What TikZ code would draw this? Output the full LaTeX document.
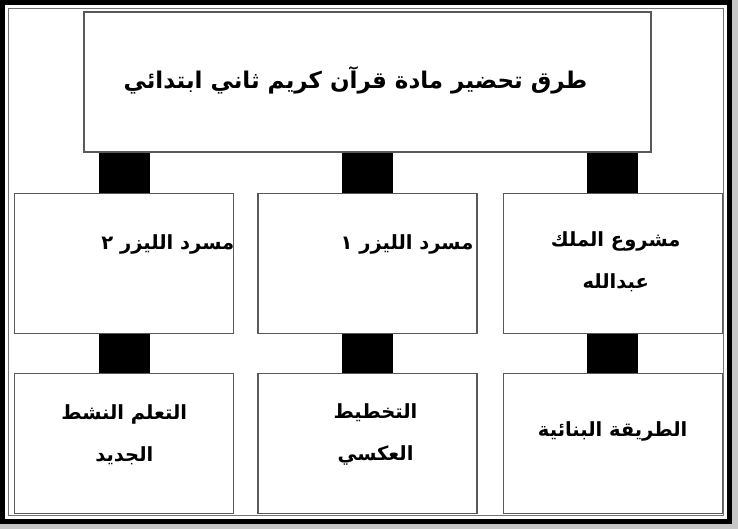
\documentclass[tikz,border=0pt]{standalone}
\usepackage{fontspec}
\newfontfamily\arabicfont[Script=Arabic]{DejaVu Sans}
\TeXXeTstate=1
\usetikzlibrary{positioning}
\tikzset {
  chart box/.style = {
    draw = black!65,
    line width = 1.2pt,
    fill = white,
    rectangle,
    inner sep = 0
  },
  % title box on top
  headbox/.style = {
    chart box,
    minimum width = 567pt,
    minimum height = 140pt
  },
  % method boxes
  stepbox/.style = {
    chart box,
    minimum width = 219pt,
    minimum height = 140pt
  },
  % box text
  lbl/.style = {
    align = center,
    inner sep = 0,
    font = \arabicfont\bfseries\fontsize{19.5}{42}\selectfont
  },
  headlbl/.style = {
    lbl,
    font = \arabicfont\bfseries\fontsize{23}{28}\selectfont
  },
  % thick black link between two boxes
  bar/.style = {
    draw = black,
    line width = 51pt
  },
  node distance = 40pt and 23pt
}
\begin{document}
\begin{tikzpicture}[x=1pt,y=-1pt]
    \useasboundingbox (0,0) rectangle (738,529);
    % page frame
    \fill[black!22] (0,0) rectangle (738,529);
    \fill[white] (0,0) rectangle (732,524);
    \draw[line width=5pt] (2.5,2.5) rectangle (729.5,521.5);
    \draw[black!55, line width=1pt] (8.5,8.5) rectangle (723.5,515.5);

    \node[headbox] (title) at (367.5,82) {};
    \node[stepbox] (laser1) [below=of title] {};
    \node[stepbox] (laser2) [left=of laser1] {};
    \node[stepbox] (king) [right=25pt of laser1] {};
    \node[stepbox] (active) [below=39pt of laser2] {};
    \node[stepbox] (backward) [below=39pt of laser1] {};
    \node[stepbox] (building) [below=39pt of king] {};

    \node[headlbl] (title-text) at ([xshift=-12pt,yshift=2pt]title.center)
      {\beginR طرق تحضير مادة قرآن كريم ثاني ابتدائي\endR};
    \node[lbl, anchor=east] (laser2-text) at ([yshift=19pt]laser2.east)
      {\beginR مسرد الليزر ٢\endR};
    \node[lbl, anchor=east] (laser1-text) at ([xshift=-4pt,yshift=19pt]laser1.east)
      {\beginR مسرد الليزر ١\endR};
    \node[lbl] (king-text) at ([xshift=3pt,yshift=1pt]king.center)
      {\beginR مشروع الملك\endR\\ \beginR عبدالله\endR};
    \node[lbl] (active-text) at ([yshift=9pt]active.center)
      {\beginR التعلم النشط\endR\\ \beginR الجديد\endR};
    \node[lbl] (backward-text) at ([xshift=8pt,yshift=9pt]backward.center)
      {\beginR التخطيط\endR\\ \beginR العكسي\endR};
    \node[lbl] (building-text) at ([yshift=12pt]building.center)
      {\beginR الطريقة البنائية\endR};

    \draw[bar] (laser2.north) -- (laser2.north |- title.south);
    \draw[bar] (laser1.north) -- (laser1.north |- title.south);
    \draw[bar] (king.north) -- (king.north |- title.south);
    \draw[bar] (active.north) -- (laser2.south);
    \draw[bar] (backward.north) -- (laser1.south);
    \draw[bar] (building.north) -- (king.south);
\end{tikzpicture}
\end{document}
